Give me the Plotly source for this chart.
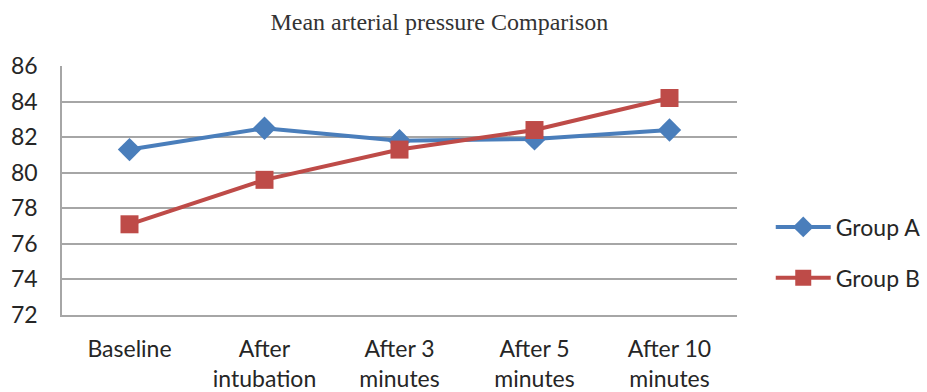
import plotly.graph_objects as go

categories = ["Baseline", "After<br>intubation", "After 3<br>minutes", "After 5<br>minutes", "After 10<br>minutes"]
group_a = [81.3, 82.5, 81.8, 81.9, 82.4]
group_b = [77.1, 79.6, 81.3, 82.4, 84.2]
y_ticks = [72, 74, 76, 78, 80, 82, 84, 86]

blue = "#4a7ebb"
red = "#be4b48"
grid = "#a6a6a6"
label_font = dict(family="Lato, Open Sans, sans-serif", size=23, color="#262626")

fig = go.Figure()
fig.add_trace(go.Scatter(
    x=categories, y=group_a, name="Group A", mode="lines+markers",
    line=dict(color=blue, width=4),
    marker=dict(symbol="diamond", size=18, color=blue),
    legendgroup="a",
))
fig.add_trace(go.Scatter(
    x=categories, y=group_b, name="Group B", mode="lines+markers",
    line=dict(color=red, width=4),
    marker=dict(symbol="square", size=18, color=red),
    legendgroup="b",
))

fig.update_layout(
    width=927, height=392,
    margin=dict(l=62, r=190, t=66, b=77, autoexpand=False),
    paper_bgcolor="white", plot_bgcolor="white",
    title=dict(text="Mean arterial pressure Comparison", x=0.474, xanchor="center",
               y=0.945, yanchor="middle",
               font=dict(family="Liberation Serif, serif", size=24, color="#333333")),
    showlegend=True,
    legend=dict(x=1.05, y=0.44, xanchor="left", yanchor="top",
                font=label_font, tracegroupgap=18, itemwidth=55,
                traceorder="grouped", bgcolor="rgba(0,0,0,0)"),
    xaxis=dict(range=[-0.5, 4.5], showgrid=False, showline=True, linecolor=grid,
               linewidth=1.5, ticks="", tickfont=label_font, automargin=False,
               ticklabelstandoff=13, fixedrange=True),
    yaxis=dict(range=[72, 86], tickvals=y_ticks, showgrid=True, gridcolor=grid,
               gridwidth=1.5, showline=True, linecolor=grid, linewidth=1.5,
               ticks="", tickfont=label_font, ticklabelstandoff=18, zeroline=False,
               automargin=False),
)

fig.write_html("out.html")
